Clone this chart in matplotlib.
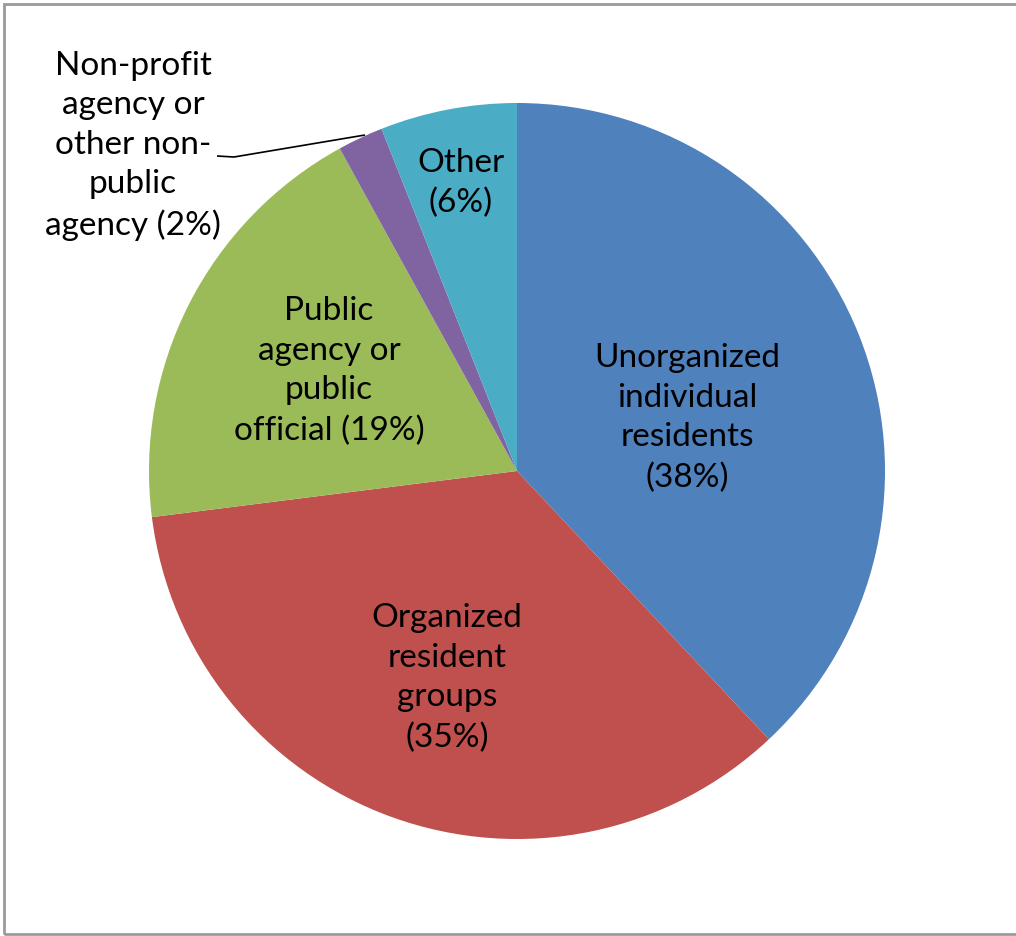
import matplotlib
matplotlib.use("Agg")
import matplotlib.pyplot as plt
from matplotlib.patches import Rectangle

plt.rcParams["font.family"] = ["Lato", "DejaVu Sans"]

# share of respondents by type
labels = ["Unorganized\nindividual\nresidents\n(38%)",
          "Organized\nresident\ngroups\n(35%)",
          "Public\nagency or\npublic\nofficial (19%)",
          "Non-profit\nagency or\nother non-\npublic\nagency (2%)",
          "Other\n(6%)"]
shares = [38, 35, 19, 2, 6]
colors = ["#4F81BD", "#C0504D", "#9BBB59", "#8064A2", "#4BACC6"]

W, H = 1016, 936
fig = plt.figure(figsize=(W / 100, H / 100), dpi=100)
ax = fig.add_axes([0, 0, 1, 1])

cx, cy, r = 517, H - 471, 368
wedges, _ = ax.pie(shares, colors=colors, startangle=90, counterclock=False,
                   center=(cx, cy), radius=r, wedgeprops=dict(linewidth=0))

ax.set_xlim(0, W)
ax.set_ylim(0, H)
ax.set_aspect("equal")
ax.axis("off")

# label centres in pixel space (y measured from top)
label_xy = [(687, 418), (447, 678), (329, 371), (133, 146), (461, 183)]
for text, (x, y) in zip(labels, label_xy):
    ax.text(x, H - y, text, ha="center", va="center", multialignment="center",
            fontsize=24, linespacing=1.4, color="#000000")

# leader line for the small slice
ax.plot([217, 234, 365], [H - 156, H - 157, H - 135], color="#000000", lw=1.2,
        solid_capstyle="butt")

# chart frame (runs off the right edge)
fig.patches.append(Rectangle((4, 2), W + 10, H - 6, transform=None, fill=False,
                             edgecolor="#9a9a9a", lw=2))

fig.savefig("out.png", dpi=100)
